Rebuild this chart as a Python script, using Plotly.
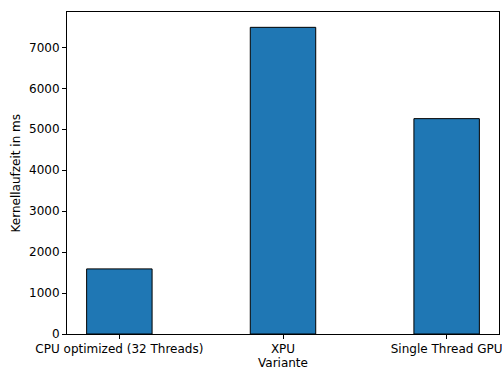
import plotly.graph_objects as go

categories = ["CPU optimized (32 Threads)", "XPU", "Single Thread GPU"]
values = [1590, 7490, 5260]
y_ticks = [0, 1000, 2000, 3000, 4000, 5000, 6000, 7000]
x_title = "Variante"
y_title = "Kernellaufzeit in ms"

fig = go.Figure()
fig.add_trace(go.Bar(
    x=[0, 1, 2], y=values, width=0.4,
    marker=dict(color="#1f77b4", line=dict(color="black", width=1)),
))

font = dict(family="DejaVu Sans", size=12, color="black")
fig.update_layout(
    width=502, height=369,
    margin=dict(l=67, r=3, t=12, b=35),
    paper_bgcolor="white", plot_bgcolor="white",
    font=font, showlegend=False,
    xaxis=dict(
        range=[-0.32, 2.32], tickmode="array", tickvals=[0, 1, 2], ticktext=categories,
        showline=True, linecolor="black", linewidth=1, mirror=True, automargin=False,
        ticklabeloverflow="allow",
        ticks="outside", ticklen=4, tickcolor="black", showgrid=False, zeroline=False,
    ),
    yaxis=dict(
        range=[0, 7864.5], tickmode="array", tickvals=y_ticks,
        showline=True, linecolor="black", linewidth=1, mirror=True, automargin=False,
        ticks="outside", ticklen=4, tickcolor="black", showgrid=False, zeroline=False,
    ),
    annotations=[
        dict(text=x_title, xref="paper", yref="paper", x=0.5, y=-0.089,
             xanchor="center", yanchor="middle", showarrow=False, font=font),
        dict(text=y_title, xref="paper", yref="paper", x=-0.117, y=0.5, textangle=-90,
             xanchor="center", yanchor="middle", showarrow=False, font=font),
    ],
)
fig.write_html("out.html")
